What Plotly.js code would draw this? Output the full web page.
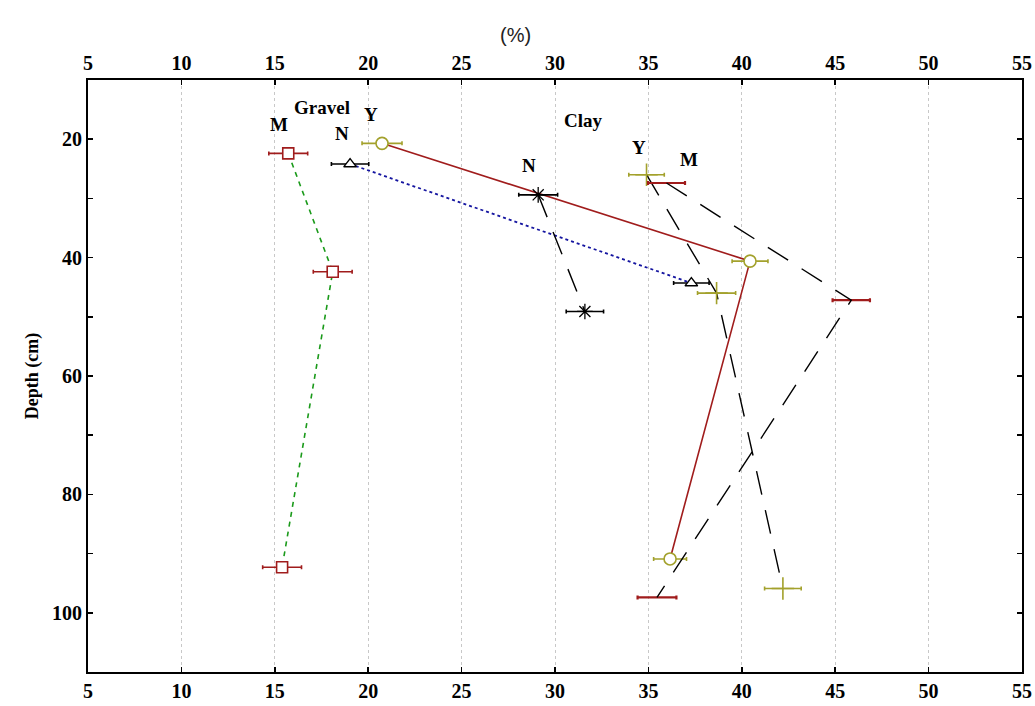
<!DOCTYPE html>
<html>
<head>
<meta charset="utf-8">
<script src="https://cdn.plot.ly/plotly-3.0.1.min.js"></script>
<style>html,body{margin:0;padding:0;background:#fff;}#chart{width:1035px;height:706px;}</style>
</head>
<body>
<div id="chart"></div>
<script>
// Gravel series
const gravelM_x = [15.72, 18.1, 15.39];
const gravelM_y = [22.4, 42.4, 92.3];
const gravelM_err = [1.04, 1.04, 1.04];

const gravelN_x = [19.03, 37.3];
const gravelN_y = [24.2, 44.3];
const gravelN_err = [1.0, 0.95];

const gravelY_x = [20.74, 40.44, 36.16];
const gravelY_y = [20.7, 40.6, 90.9];
const gravelY_err = [1.07, 0.96, 0.88];

// Clay series
const clayN_x = [29.1, 31.6];
const clayN_y = [29.4, 49.1];
const clayN_err = [1.04, 1.0];

const clayY_x = [34.9, 38.65, 42.2];
const clayY_y = [26.0, 46.0, 95.9];
const clayY_err = [0.95, 1.02, 0.98];

const clayM_x = [35.97, 45.86, 35.46];
const clayM_y = [27.4, 47.2, 97.4];
const clayM_err = [0.99, 1.0, 1.04];

// Labels
const labelText = ["Gravel", "M", "N", "Y", "Clay", "N", "Y", "M"];
const labelX = [17.5, 15.25, 18.58, 20.14, 31.52, 28.6, 34.5, 37.15];
const labelY = [14.7, 17.6, 19.1, 15.9, 16.8, 24.4, 21.4, 23.4];

const xTicks = [5, 10, 15, 20, 25, 30, 35, 40, 45, 50, 55];
const yTicks = [20, 40, 60, 80, 100];

const RED = '#a01c1c';
const OLIVE = '#a3a12c';
const serif = 'Liberation Serif, Times New Roman, serif';

function errX(arr, color, th) {
  return {type: 'data', array: arr, visible: true, color: color, thickness: th || 1.6, width: 2};
}

const traces = [
  {x: gravelM_x, y: gravelM_y, mode: 'lines+markers', error_x: errX(gravelM_err, RED),
   line: {color: '#1a9a1a', dash: '5px,5px', width: 1.6},
   marker: {symbol: 'square', size: 11, color: 'white', line: {color: RED, width: 1.6}}},
  {x: gravelN_x, y: gravelN_y, mode: 'lines+markers', error_x: errX(gravelN_err, 'black'),
   line: {color: '#1515a0', dash: 'dot', width: 1.8},
   marker: {symbol: 'triangle-up', size: 11, color: 'white', line: {color: 'black', width: 1.4}}},
  {x: gravelY_x, y: gravelY_y, mode: 'lines+markers', error_x: errX(gravelY_err, OLIVE),
   line: {color: RED, width: 1.6},
   marker: {symbol: 'circle', size: 12, color: 'white', line: {color: OLIVE, width: 1.6}}},
  {x: clayN_x, y: clayN_y, mode: 'lines+markers', error_x: errX(clayN_err, 'black'),
   line: {color: 'black', dash: '24px,16px', width: 1.4},
   marker: {symbol: 'asterisk-open', size: 13, color: 'black', line: {color: 'black', width: 1.3}}},
  {x: clayY_x, y: clayY_y, mode: 'lines+markers', error_x: errX(clayY_err, OLIVE),
   line: {color: 'black', dash: '24px,16px', width: 1.4},
   marker: {symbol: 'cross-thin-open', size: 16, color: OLIVE, line: {color: OLIVE, width: 1.6}}},
  {x: clayM_x, y: clayM_y, mode: 'lines', error_x: errX(clayM_err, RED, 2.2),
   line: {color: 'black', dash: '24px,16px', width: 1.4}},
  {x: [5, 55], y: [10, 10], xaxis: 'x2', mode: 'markers', marker: {opacity: 0}, hoverinfo: 'skip'}
];

const annotations = labelText.map((t, i) => ({
  x: labelX[i], y: labelY[i], xref: 'x', yref: 'y', text: t, showarrow: false,
  font: {family: serif, size: 19, color: 'black', weight: 'bold'}
}));
annotations.push({
  x: 27.9, y: 1, xref: 'x', yref: 'paper', yshift: 58, text: '(%)', showarrow: false,
  font: {family: 'Liberation Sans, Arial, sans-serif', size: 20, color: '#222'}
});
annotations.push({
  x: -0.073, y: 0.5, xref: 'paper', yref: 'paper', text: 'Depth (cm)', textangle: -90,
  showarrow: false, font: {family: serif, size: 18, color: 'black', weight: 'bold'}
});

const tickFont = {family: serif, size: 20, color: 'black', weight: 'bold'};

const layout = {
  width: 1035, height: 706,
  margin: {l: 88, r: 13, t: 80, b: 34},
  paper_bgcolor: 'white', plot_bgcolor: 'white',
  showlegend: false,
  xaxis: {range: [5, 55], tickvals: xTicks, ticktext: xTicks.map(String), ticks: 'inside', ticklen: 5,
    tickwidth: 1.5, tickcolor: 'black', showline: true, linecolor: 'black', linewidth: 2,
    showgrid: true, gridcolor: '#c8c8c8', griddash: 'dot', gridwidth: 1, zeroline: false,
    tickfont: tickFont, fixedrange: true},
  xaxis2: {range: [5, 55], overlaying: 'x', side: 'top', tickvals: xTicks, ticktext: xTicks.map(String),
    ticks: 'inside', ticklen: 5, tickwidth: 1.5, tickcolor: 'black', showline: true, linecolor: 'black',
    linewidth: 2, showgrid: false, zeroline: false, tickfont: tickFont},
  yaxis: {range: [110, 10], tickvals: yTicks, ticktext: yTicks.map(String), ticks: 'inside', ticklen: 5,
    tickwidth: 1.5, tickcolor: 'black', showline: true, linecolor: 'black', linewidth: 2, mirror: 'ticks',
    showgrid: false, zeroline: false, tickfont: tickFont,
    minor: {tickvals: [30, 50, 70, 90], ticks: 'inside', ticklen: 5, tickwidth: 1.5, tickcolor: 'black', showgrid: false}},
  annotations: annotations
};

Plotly.newPlot('chart', traces, layout, {staticPlot: true});
</script>
</body>
</html>
